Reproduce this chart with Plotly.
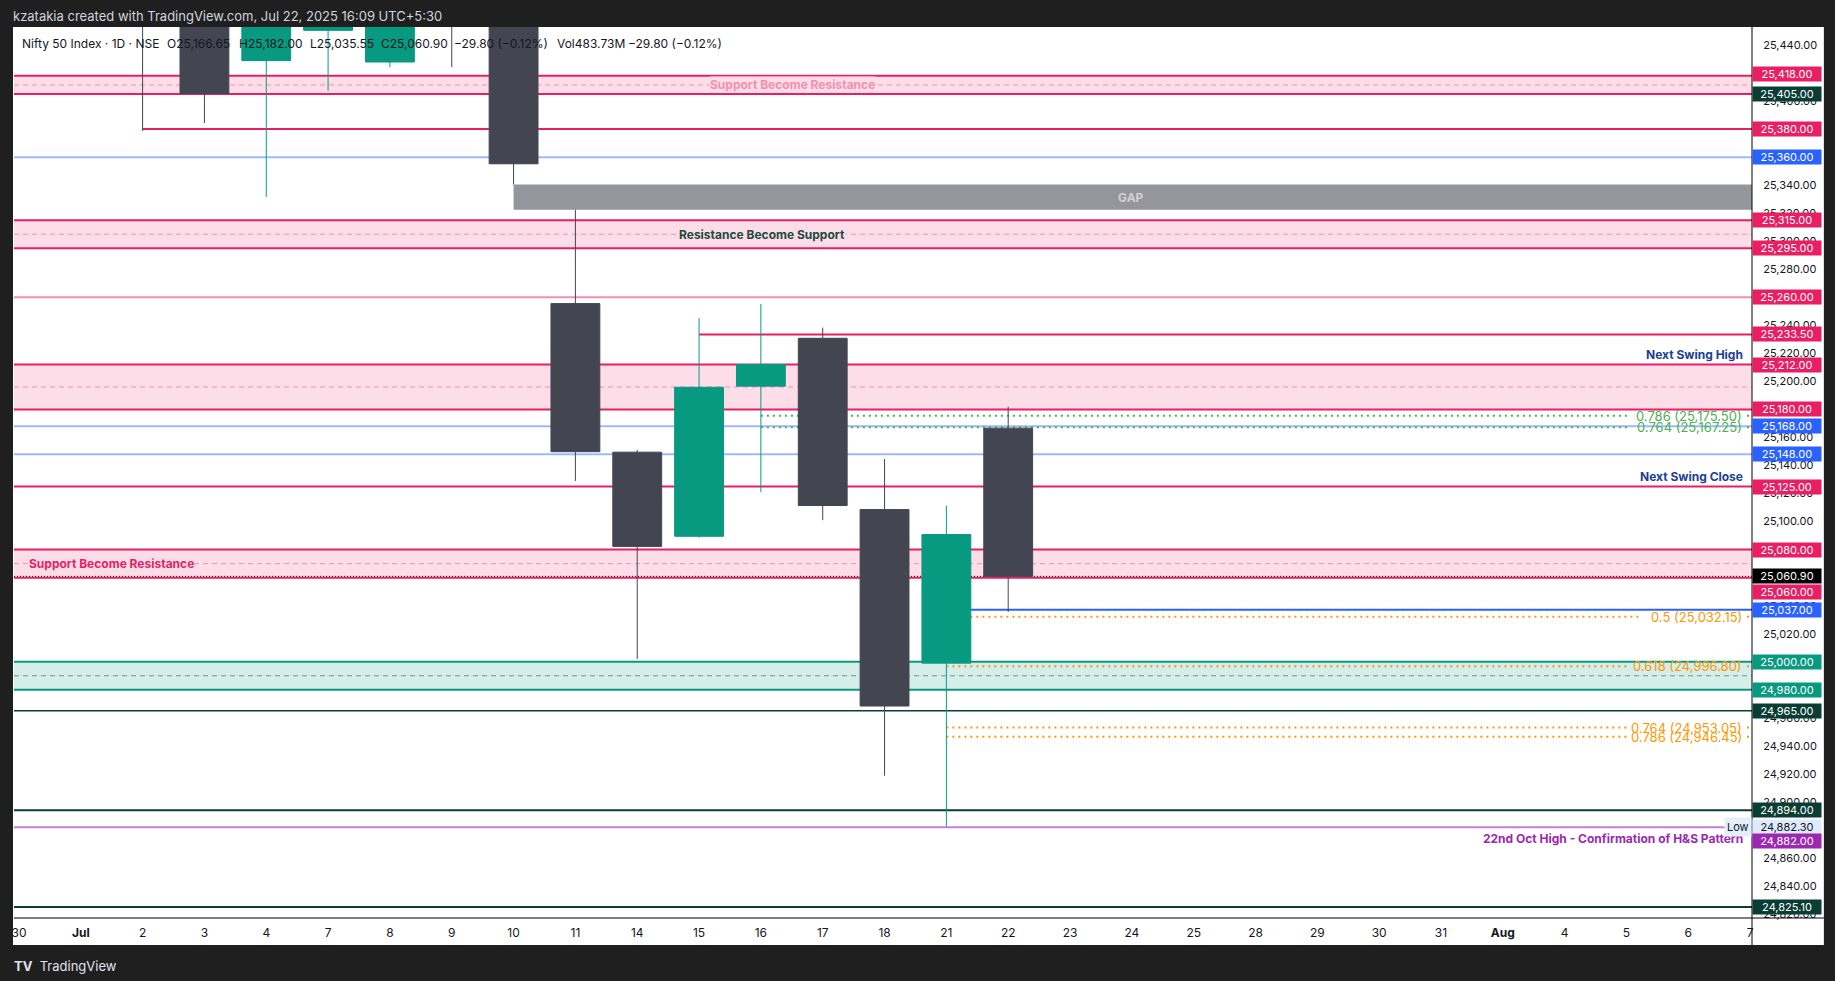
import plotly.graph_objects as go

# ---------------- data ----------------
day_labels = ["30", "<b>Jul</b>", "2", "3", "4", "7", "8", "9", "10", "11", "14", "15",
              "16", "17", "18", "21", "22", "23", "24", "25", "28", "29", "30", "31",
              "<b>Aug</b>", "4", "5", "6", "7"]

candle_day = [2, 3, 4, 5, 6, 7, 8, 9, 10, 11, 12, 13, 14, 15, 16]
open_ = [25588.30, 25505.10, 25428.85, 25450.45, 25427.85, 25514.60, 25511.65, 25255.50,
         25149.50, 25089.50, 25196.60, 25230.75, 25108.55, 24999.00, 25166.65]
high = [25608.10, 25587.50, 25470.25, 25489.80, 25548.70, 25548.05, 25524.05, 25322.45,
        25151.10, 25245.20, 25255.30, 25238.35, 25144.60, 25111.45, 25182.00]
low = [25378.75, 25384.35, 25331.65, 25407.25, 25424.15, 25424.15, 25340.45, 25129.00,
       25001.95, 25088.45, 25121.05, 25101.00, 24918.65, 24882.30, 25035.55]
close = [25453.40, 25405.30, 25461.00, 25461.30, 25522.50, 25476.10, 25355.25, 25149.85,
         25082.30, 25195.80, 25212.05, 25111.45, 24968.40, 25090.70, 25060.90]

zone_hi = [25418.0, 25315.0, 25212.0, 25080.0, 25000.0]
zone_lo = [25405.0, 25295.0, 25180.0, 25060.0, 24980.0]

hline_value = [25380.0, 25360.0, 25260.0, 25233.5, 25168.0, 25148.0, 25125.0,
               25037.0, 24965.0, 24894.0, 24882.0, 24825.10]
hline_from = [2, None, None, 11, None, None, None, 15, None, None, None, None]

fib_green_ratio = ["0.786", "0.764"]
fib_green_value = [25175.50, 25167.25]
fib_orange_ratio = ["0.5", "0.618", "0.764", "0.786"]
fib_orange_value = [25032.15, 24996.80, 24953.05, 24946.45]

tag_value = [25418.0, 25405.0, 25380.0, 25360.0, 25315.0, 25295.0, 25260.0, 25233.5,
             25212.0, 25180.0, 25168.0, 25148.0, 25125.0, 25080.0, 25060.90, 25060.0,
             25037.0, 25000.0, 24980.0, 24965.0, 24894.0, 24882.30, 24882.0, 24825.10]

last_close = 25060.90
gap_day = 8  # Jul 10 -> Jul 11 gap down

# ---------------- styling ----------------
GREEN = "#089981"
DARK = "#434651"
RED = "#e91e63"
PINK_FILL = "rgba(233,30,99,0.15)"
PINK_SOLID = "#fadde7"
TEAL_FILL = "rgba(8,153,129,0.17)"
BLUE = "#2962ff"
LBLUE = "rgba(41,98,255,0.45)"
DGREEN = "#0a3d33"
NAVY = "#1c3f94"
PURPLE = "#9c27b0"
TXT = "#131722"

L, R, T, B = 11, 1752, 27, 918          # plot area in page px
XR = [-0.08, 28.03]
YR = [24817.17, 25452.84]


def pxp(px):
    return (px - L) / (R - L)


def pyp(py):
    return (B - py) / (B - T)


def px2day(px):
    return XR[0] + (px - L) / (R - L) * (XR[1] - XR[0])


fig = go.Figure()
fig.add_trace(go.Candlestick(
    x=candle_day, open=open_, high=high, low=low, close=close,
    increasing=dict(line=dict(color=GREEN, width=1), fillcolor=GREEN),
    decreasing=dict(line=dict(color=DARK, width=1), fillcolor=DARK),
    whiskerwidth=0, showlegend=False, hoverinfo="skip",
))

shapes = []
# white chart panel incl. price/time scales
shapes.append(dict(type="rect", xref="paper", yref="paper", x0=pxp(10), x1=pxp(1824),
                   y0=pyp(945), y1=1, fillcolor="white", line_width=0, layer="below"))

# zones
for i, (hi, lo) in enumerate(zip(zone_hi, zone_lo)):
    teal = i == len(zone_hi) - 1
    fill = TEAL_FILL if teal else PINK_FILL
    edge = GREEN if teal else RED
    mid = "#6f978f" if teal else "#f48fb1"
    shapes.append(dict(type="rect", xref="paper", yref="y", x0=0, x1=1, y0=lo, y1=hi,
                       fillcolor=fill, line_width=0, layer="below"))
    for v in (hi, lo):
        shapes.append(dict(type="line", xref="paper", yref="y", x0=0, x1=1, y0=v, y1=v,
                           line=dict(color=edge, width=2), layer="below"))
    shapes.append(dict(type="line", xref="paper", yref="y", x0=0, x1=1,
                       y0=(hi + lo) / 2, y1=(hi + lo) / 2,
                       line=dict(color=mid, width=1, dash="5px,4px"), layer="below"))

# gap box: Jul 10 low -> Jul 11 high
gi = candle_day.index(gap_day)
gap_top, gap_bot = low[gi], high[gi + 1]
shapes.append(dict(type="rect", xref="x", yref="y", x0=candle_day[gi], x1=XR[1],
                   y0=gap_bot, y1=gap_top, fillcolor="#95969b", line_width=0,
                   layer="below"))

# horizontal levels
hstyle = {25380.0: (RED, 2), 25360.0: (LBLUE, 2), 25260.0: ("#f48fb1", 2),
          25233.5: (RED, 2), 25168.0: (LBLUE, 2), 25148.0: (LBLUE, 2),
          25125.0: (RED, 2), 25037.0: (BLUE, 2), 24965.0: (DGREEN, 1.5),
          24894.0: (DGREEN, 2), 24882.0: ("#c57fd6", 2), 24825.10: (DGREEN, 2)}
for v, start in zip(hline_value, hline_from):
    col, w = hstyle[v]
    if start is None:
        shapes.append(dict(type="line", xref="paper", yref="y", x0=0, x1=1, y0=v, y1=v,
                           line=dict(color=col, width=w), layer="below"))
    else:
        shapes.append(dict(type="line", xref="x", yref="y", x0=start, x1=XR[1], y0=v, y1=v,
                           line=dict(color=col, width=w), layer="below"))

# last price dotted line
shapes.append(dict(type="line", xref="paper", yref="y", x0=0, x1=1, y0=last_close,
                   y1=last_close, line=dict(color="#131722", width=1, dash="1px,2px"),
                   layer="below"))

annotations = []


def fib(ratios, values, start, color):
    for r, v in zip(ratios, values):
        label = f"{r} ({v:,.2f})"
        left = 1743 - len(label) * 6.25
        shapes.append(dict(type="line", xref="x", yref="y", x0=start, x1=px2day(left - 8),
                           y0=v, y1=v, line=dict(color=color, width=2, dash="2px,4px"),
                           layer="below"))
        shapes.append(dict(type="line", xref="x", yref="y", x0=px2day(1747), x1=px2day(1751),
                           y0=v, y1=v, line=dict(color=color, width=2, dash="2px,4px"),
                           layer="below"))
        annotations.append(dict(xref="paper", yref="y", x=pxp(1744), y=v, xanchor="right",
                                yanchor="middle", text=label, showarrow=False,
                                font=dict(size=13, color=color)))


fib(fib_green_ratio, fib_green_value, 12, "#4caf50")
fib(fib_orange_ratio, fib_orange_value, 15, "#ff9800")

# scale lines
shapes.append(dict(type="line", xref="paper", yref="paper", x0=1, x1=1, y0=pyp(945), y1=1,
                   line=dict(color="black", width=1), layer="above"))
shapes.append(dict(type="line", xref="paper", yref="paper", x0=0, x1=pxp(1824), y0=0, y1=0,
                   line=dict(color="black", width=1), layer="above"))


def note(text, x, y, xanchor="center", size=12, color=TXT, bg=None, xref="x", yref="y", **kw):
    a = dict(xref=xref, yref=yref, x=x, y=y, xanchor=xanchor, yanchor="middle", text=text,
             showarrow=False, font=dict(size=size, color=color), borderpad=0)
    if bg:
        a["bgcolor"] = bg
    a.update(kw)
    annotations.append(a)


note("<b>Support Become Resistance</b>", px2day(791), (zone_hi[0] + zone_lo[0]) / 2,
     color="#f48fb1", bg=PINK_SOLID)
note("<b>Resistance Become Support</b>", px2day(760), (zone_hi[1] + zone_lo[1]) / 2,
     color="#1e4a3d", bg=PINK_SOLID)
note("<b>Support Become Resistance</b>", px2day(25), (zone_hi[3] + zone_lo[3]) / 2,
     xanchor="left", color=RED, bg=PINK_SOLID)
note("<b>GAP</b>", px2day(1130), (gap_top + gap_bot) / 2, color="#d0d1d4")
note("<b>Next Swing High</b>", pxp(1744), 25219.0, xanchor="right", color=NAVY, xref="paper")
note("<b>Next Swing Close</b>", pxp(1744), 25132.5, xanchor="right", color=NAVY, xref="paper")
note("<b>22nd Oct High - Confirmation of H&S Pattern</b>", pxp(1744), 24874.0,
     xanchor="right", color=PURPLE, xref="paper")
note("Low", 1, 24882.30, xanchor="right", size=11, bg="#e3effd", xref="paper",
     height=14, borderpad=2)

# price scale tags
tag_style = [RED, DGREEN, RED, BLUE, RED, RED, RED, RED, RED, RED, BLUE, BLUE, RED, RED,
             "#000000", RED, BLUE, GREEN, GREEN, DGREEN, DGREEN, "#deebfc", PURPLE, DGREEN]
tag_shift = {25418.0: 1.5, 25060.0: -14.5, 24882.0: -13.5}
for v, bg in zip(tag_value, tag_style):
    fc = TXT if bg == "#deebfc" else "white"
    annotations.append(dict(xref="paper", yref="y", x=1, y=v, xanchor="left",
                            yanchor="middle", text=f"{v:,.2f}", showarrow=False,
                            font=dict(size=11, color=fc), bgcolor=bg, width=66, height=12,
                            borderpad=1, align="center", yshift=tag_shift.get(v, 0)))

# header / legend texts
note("kzatakia created with TradingView.com, Jul 22, 2025 16:09 UTC+5:30", pxp(9), pyp(15.5),
     xanchor="left", size=13, color="#d1d4dc", xref="paper", yref="paper")
legend_parts = [("Nifty 50 Index · 1D · NSE", 18), (f"O{open_[-1]:,.2f}", 163),
                (f"H{high[-1]:,.2f}", 235), (f"L{low[-1]:,.2f}", 306.5),
                (f"C{close[-1]:,.2f}", 377.5), ("−29.80 (−0.12%)", 451),
                ("Vol483.73M", 553.5), ("−29.80 (−0.12%)", 625)]
for txt, x in legend_parts:
    note(txt, pxp(x), pyp(43.3), xanchor="left", size=12, xref="paper", yref="paper")
note("<b>TV</b>  TradingView", pxp(10), pyp(966), xanchor="left", size=13, color="#e0e3eb",
     xref="paper", yref="paper")

fig.update_layout(
    width=1835, height=981,
    margin=dict(l=L, r=1835 - R, t=T, b=981 - B),
    paper_bgcolor="#1f1f1f", plot_bgcolor="white",
    boxgap=0.21, boxgroupgap=0,
    font=dict(family="Inter, Roboto, sans-serif", color=TXT),
    showlegend=False, shapes=shapes, annotations=annotations,
)
fig.update_xaxes(range=XR, tickvals=list(range(len(day_labels))), ticktext=day_labels,
                 showgrid=False, zeroline=False, showline=False, ticks="outside", ticklen=4,
                 tickcolor="rgba(0,0,0,0)", tickfont=dict(size=12, color=TXT),
                 rangeslider_visible=False, fixedrange=True)
fig.update_yaxes(range=YR, side="right", dtick=20, tick0=0, tickformat=",.2f",
                 showgrid=False, zeroline=False, showline=False, ticks="outside", ticklen=8,
                 tickcolor="rgba(0,0,0,0)", tickfont=dict(size=11, color=TXT), fixedrange=True)

fig.write_html("out.html", config={"displayModeBar": False},
               post_script="document.body.style.margin='0';")
